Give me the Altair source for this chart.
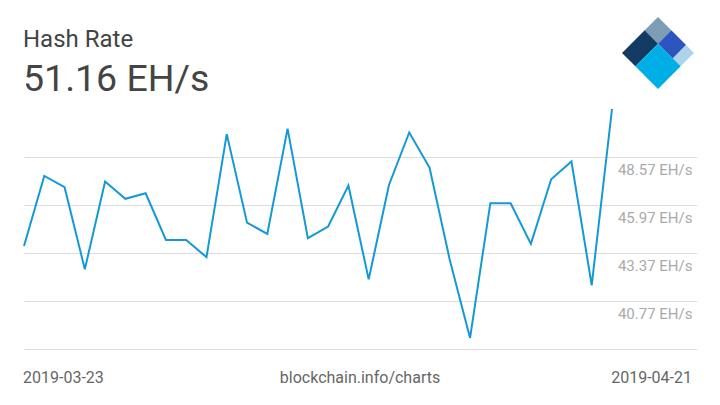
import altair as alt
import pandas as pd

# ---- data ----
dates = pd.date_range("2019-03-23", "2019-04-21", freq="D").strftime("%Y-%m-%d").tolist()
hash_rate = [43.75, 47.54, 46.93, 42.49, 47.23, 46.30, 46.60, 44.07, 44.07, 43.14,
             49.80, 45.01, 44.40, 50.10, 44.17, 44.80, 47.02, 41.94, 47.05, 49.89,
             47.99, 42.99, 38.77, 46.06, 46.06, 43.86, 47.36, 48.32, 41.62, 51.16]
y_ticks = [38.17, 40.77, 43.37, 45.97, 48.57]
title_text = "Hash Rate"
value_text = "51.16 EH/s"
footer_left = dates[0]
footer_mid = "blockchain.info/charts"
footer_right = dates[-1]

logo_pieces = ["top", "left", "mid", "right", "bottom"]
logo_paths = [
    "M0,-1L0.37,-0.63L0,-0.26L-0.37,-0.63Z",
    "M-0.37,-0.63L0,-0.26L-0.63,0.37L-1,0Z",
    "M0.37,-0.63L0.78,-0.22L0.41,0.15L0,-0.26Z",
    "M0.78,-0.22L1,0L0.63,0.37L0.41,0.15Z",
    "M0,-0.26L0.63,0.37L0,1L-0.63,0.37Z",
]
logo_colors = ["#7c9db3", "#123a63", "#2d55c0", "#aed3ea", "#00aee6"]

first = pd.Timestamp(dates[0])
df = pd.DataFrame({
    "date": dates,
    "day": [(pd.Timestamp(d) - first).days for d in dates],
    "value": hash_rate,
})

W, H = 673, 240
x_max = (len(dates) - 1) * W / 588.0

line = alt.Chart(df).mark_line(color="#1499d6", strokeWidth=2).encode(
    x=alt.X("day:Q", scale=alt.Scale(domain=[0, x_max], nice=False, zero=False), axis=None),
    y=alt.Y(
        "value:Q",
        scale=alt.Scale(domain=[y_ticks[0], hash_rate[-1]], nice=False, zero=False),
        axis=alt.Axis(
            orient="right", values=y_ticks,
            labelExpr="datum.value < 39 ? '' : format(datum.value, '.2f') + ' EH/s'",
            grid=True, gridColor="#dddddd", gridWidth=1,
            domain=False, ticks=False, title=None,
            labelAlign="right", labelPadding=-5, labelOffset=13, labelBaseline="middle",
            labelFontSize=15, labelColor="#aaaaaa", labelFont="Roboto",
            labelOverlap=False, labelBound=False,
        ),
    ),
)

one = pd.DataFrame({"t": [0]})


def text_layer(txt, x, y, size, color, align="left"):
    return alt.Chart(one).mark_text(
        text=txt, font="Roboto", fontSize=size, color=color, align=align, baseline="alphabetic"
    ).encode(x=alt.value(x), y=alt.value(y))


title = text_layer(title_text, -1, -62, 24, "#444444")
value = text_layer(value_text, -1, -18, 37.5, "#444444")
f1 = text_layer(footer_left, -1, 274, 16, "#666666", "left")
f2 = text_layer(footer_mid, 336, 274, 16, "#666666", "center")
f3 = text_layer(footer_right, 668, 274, 16, "#666666", "right")

logo_df = pd.DataFrame({"piece": logo_pieces})
logo = alt.Chart(logo_df).mark_point(filled=True, opacity=1, strokeWidth=0).encode(
    x=alt.value(634), y=alt.value(-56), size=alt.value(5184),
    shape=alt.Shape("piece:N", scale=alt.Scale(domain=logo_pieces, range=logo_paths), legend=None),
    color=alt.Color("piece:N", scale=alt.Scale(domain=logo_pieces, range=logo_colors), legend=None),
)

chart = alt.layer(line, title, value, f1, f2, f3, logo).resolve_scale(
    shape="independent", color="independent"
).properties(
    width=W, height=H,
    autosize=alt.AutoSizeParams(type="none"),
    padding={"left": 16, "top": 101, "right": 15, "bottom": 40},
    background="white",
).configure_view(stroke=None)

chart.save("out.html", embed_options={"renderer": "svg", "actions": False})
